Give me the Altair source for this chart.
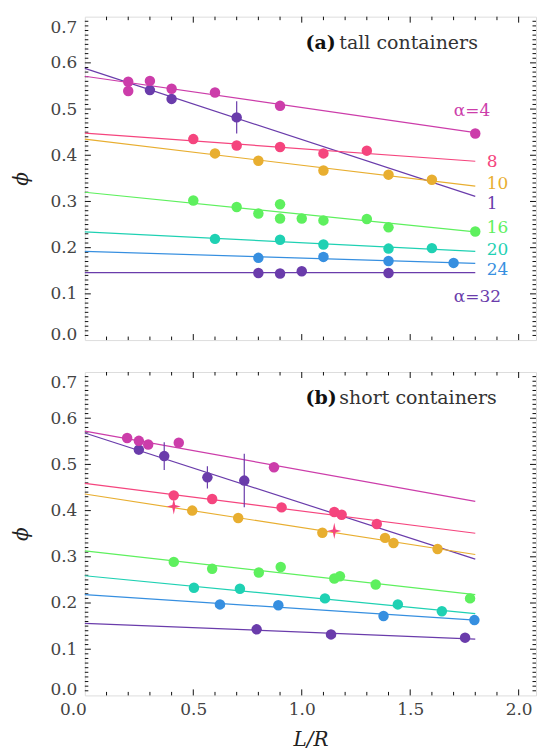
import altair as alt
import numpy as np
import pandas as pd

# ---------------- data ----------------
SERIES = ["1", "4", "8", "10", "16", "20", "24", "32"]
COLORS = ["#6A3CAB", "#CC3DAA", "#F5457E", "#E8AE30", "#5EF05E", "#1FD1B3", "#368FE0", "#6A3CAB"]

FIT_X = [0.0, 1.8]

# (a) tall containers
A_X = {
    "4": [0.2, 0.2, 0.3, 0.4, 0.6, 0.9, 1.8],
    "1": [0.3, 0.4, 0.7],
    "8": [0.5, 0.7, 0.9, 1.1, 1.3],
    "10": [0.6, 0.8, 1.1, 1.4, 1.6],
    "16": [0.5, 0.7, 0.8, 0.9, 0.9, 1.0, 1.1, 1.3, 1.4, 1.8],
    "20": [0.6, 0.9, 1.1, 1.4, 1.6],
    "24": [0.8, 1.1, 1.4, 1.7],
    "32": [0.8, 0.9, 1.0, 1.4],
}
A_Y = {
    "4": [0.559, 0.539, 0.561, 0.544, 0.536, 0.507, 0.447],
    "1": [0.541, 0.522, 0.482],
    "8": [0.435, 0.421, 0.418, 0.404, 0.410],
    "10": [0.404, 0.388, 0.367, 0.358, 0.347],
    "16": [0.302, 0.288, 0.274, 0.294, 0.263, 0.263, 0.259, 0.262, 0.244, 0.235],
    "20": [0.219, 0.217, 0.207, 0.198, 0.199],
    "24": [0.178, 0.180, 0.171, 0.167],
    "32": [0.145, 0.144, 0.149, 0.145],
}
A_ERR = {"1": [0.0, 0.0, 0.035]}
A_FIT = {
    "4": [0.571, 0.449],
    "1": [0.588, 0.311],
    "8": [0.448, 0.387],
    "10": [0.435, 0.333],
    "16": [0.320, 0.234],
    "20": [0.234, 0.192],
    "24": [0.192, 0.166],
    "32": [0.146, 0.146],
}
A_LABEL_SERIES = ["4", "8", "10", "1", "16", "20", "24", "32"]
A_LABEL_TEXT = ["α=4", "8", "10", "1", "16", "20", "24", "α=32"]
A_LABEL_Y = [0.495, 0.385, 0.338, 0.295, 0.242, 0.195, 0.151, 0.094]
A_LABEL_X = [1.701, 1.853, 1.853, 1.853, 1.853, 1.853, 1.853, 1.701]

# (b) short containers
B_X = {
    "4": [0.195, 0.249, 0.292, 0.433, 0.872],
    "1": [0.249, 0.366, 0.565, 0.735],
    "8": [0.410, 0.587, 0.907, 1.150, 1.184, 1.346],
    "10": [0.495, 0.707, 1.095, 1.384, 1.423, 1.626],
    "16": [0.410, 0.587, 0.802, 0.903, 1.150, 1.176, 1.341, 1.776],
    "20": [0.503, 0.715, 1.107, 1.443, 1.646],
    "24": [0.623, 0.892, 1.377, 1.796],
    "32": [0.792, 1.135, 1.753],
}
B_Y = {
    "4": [0.557, 0.551, 0.543, 0.547, 0.494],
    "1": [0.532, 0.518, 0.472, 0.465],
    "8": [0.433, 0.425, 0.407, 0.397, 0.391, 0.371],
    "10": [0.400, 0.384, 0.352, 0.341, 0.330, 0.317],
    "16": [0.289, 0.274, 0.266, 0.278, 0.253, 0.258, 0.240, 0.210],
    "20": [0.233, 0.231, 0.210, 0.197, 0.182],
    "24": [0.197, 0.195, 0.172, 0.163],
    "32": [0.143, 0.132, 0.125],
}
B_ERR = {"1": [0.011, 0.030, 0.024, 0.058]}
B_FIT = {
    "4": [0.572, 0.420],
    "1": [0.568, 0.295],
    "8": [0.459, 0.351],
    "10": [0.436, 0.305],
    "16": [0.313, 0.218],
    "20": [0.259, 0.177],
    "24": [0.218, 0.163],
    "32": [0.156, 0.122],
}
B_STAR_SERIES = ["8", "8"]
B_STAR_X = [0.410, 1.150]
B_STAR_Y = [0.409, 0.356]

# ---------------- layout / style ----------------
W, H = 452, 324
FONT = "DejaVu Serif"
XS = alt.Scale(domain=[0, 2.08], nice=False, zero=False)
YS = alt.Scale(domain=[0, 0.7], nice=False, zero=False)
CS = alt.Scale(domain=SERIES, range=COLORS)
STAR = "M0,-1.15L0.2,-0.2L1,0L0.2,0.2L0,1.15L-0.2,0.2L-1,0L-0.2,-0.2Z"

Y_MAJOR = [round(v, 2) for v in np.arange(0.1, 0.65, 0.1)]
Y_MINOR = [round(v, 2) for v in np.arange(0.01, 0.70, 0.01) if round(v * 100) % 10 != 0]
X_MAJOR = [0.5, 1.0, 1.5, 2.0]
X_MINOR = [round(v, 2) for v in np.arange(0.1, 2.05, 0.1) if round(v * 10) % 5 != 0]

yaxis = alt.Axis(values=[round(v, 1) for v in np.arange(0, 0.75, 0.1)], format=".1f",
                 ticks=False, domain=False, grid=False,
                 labelFont=FONT, labelFontSize=17, labelColor="#444", labelPadding=8,
                 labelFlush=False,
                 labelOffset={"condition": [{"test": "datum.value > 0.65", "value": 11},
                                            {"test": "datum.value < 0.05", "value": -6}],
                              "value": 0},
                 title="ϕ", titleFont=FONT, titleFontSize=20,
                 titleFontStyle="italic", titleFontWeight="normal", titleColor="#222",
                 titlePadding=18)
xaxis = alt.Axis(values=[0.0, 0.5, 1.0, 1.5, 2.0], format=".1f",
                 ticks=False, domain=False, grid=False,
                 labelFont=FONT, labelFontSize=17, labelColor="#444", labelPadding=6,
                 labelFlush=False,
                 labelOffset={"condition": {"test": "datum.value < 0.05", "value": -12},
                              "value": 0},
                 title="L/R", titleFont=FONT, titleFontSize=20,
                 titleFontStyle="italic", titleFontWeight="normal", titleColor="#222",
                 titlePadding=12)


def points_df(xs, ys):
    rows = []
    for s in SERIES:
        if s in xs:
            for x, y in zip(xs[s], ys[s]):
                rows.append({"x": x, "y": y, "s": s})
    return pd.DataFrame(rows)


def err_df(xs, ys, errs):
    rows = []
    for s, es in errs.items():
        for x, y, e in zip(xs[s], ys[s], es):
            if e > 0:
                rows.append({"x": x, "y": y - e, "y2": y + e, "s": s})
    return pd.DataFrame(rows)


def fit_df(fits):
    rows = []
    for s in SERIES:
        for x, y in zip(FIT_X, fits[s]):
            rows.append({"x": x, "y": y, "s": s})
    return pd.DataFrame(rows)


def panel(tag, subtitle, xs, ys, errs, fits, show_x, labels=None, stars=None):
    X = alt.X("x:Q", scale=XS, axis=xaxis if show_x else None)
    Y = alt.Y("y:Q", scale=YS, axis=yaxis)
    C = alt.Color("s:N", scale=CS, legend=None)
    layers = []
    # frame ticks (inward)
    for vals, ln in ((Y_MINOR, 3.5), (Y_MAJOR, 6)):
        d = pd.DataFrame({"y": vals})
        layers.append(alt.Chart(d).mark_rule(color="#111", strokeWidth=1).encode(
            y=Y, x=alt.value(0), x2=alt.value(ln)))
        layers.append(alt.Chart(d).mark_rule(color="#111", strokeWidth=1).encode(
            y=Y, x=alt.value(W - ln), x2=alt.value(W)))
    for vals, ln in ((X_MINOR, 3.5), (X_MAJOR, 6)):
        d = pd.DataFrame({"x": vals})
        layers.append(alt.Chart(d).mark_rule(color="#111", strokeWidth=1).encode(
            x=X, y=alt.value(H - ln), y2=alt.value(H)))
        layers.append(alt.Chart(d).mark_rule(color="#111", strokeWidth=1).encode(
            x=X, y=alt.value(0), y2=alt.value(ln)))
    # fit lines
    layers.append(alt.Chart(fit_df(fits)).mark_line(strokeWidth=1.2).encode(
        x=X, y=Y, color=C, detail="s:N"))
    # error bars
    layers.append(alt.Chart(err_df(xs, ys, errs)).mark_rule(strokeWidth=1.2).encode(
        x=X, y=Y, y2="y2:Q", color=C))
    # points
    layers.append(alt.Chart(points_df(xs, ys)).mark_circle(size=110, opacity=1).encode(
        x=X, y=Y, color=C))
    if stars is not None:
        layers.append(alt.Chart(stars).mark_point(shape=STAR, filled=True, size=200, opacity=1).encode(
            x=X, y=Y, color=C))
    if labels is not None:
        layers.append(alt.Chart(labels).mark_text(align="left", baseline="middle", font=FONT,
                                                  fontSize=17).encode(
            x=X, y=Y, text="t:N", color=C))
    # panel titles
    layers.append(alt.Chart(pd.DataFrame({"t": [tag]})).mark_text(
        align="left", baseline="middle", font=FONT, fontSize=19, fontWeight="bold",
        color="#111").encode(text="t:N", x=alt.value(221), y=alt.value(26)))
    layers.append(alt.Chart(pd.DataFrame({"t": [subtitle]})).mark_text(
        align="left", baseline="middle", font=FONT, fontSize=19, color="#333").encode(
        text="t:N", x=alt.value(255), y=alt.value(26)))
    return alt.layer(*layers).properties(width=W, height=H)


labels_a = pd.DataFrame({"x": A_LABEL_X, "y": A_LABEL_Y, "t": A_LABEL_TEXT, "s": A_LABEL_SERIES})
stars_b = pd.DataFrame({"x": B_STAR_X, "y": B_STAR_Y, "s": B_STAR_SERIES})

pa = panel("(a)", "tall containers", A_X, A_Y, A_ERR, A_FIT, False, labels=labels_a)
pb = panel("(b)", "short containers", B_X, B_Y, B_ERR, B_FIT, True, stars=stars_b)

chart = alt.vconcat(pa, pb, spacing=28).properties(
    padding={"left": 11, "top": 15, "right": 3, "bottom": 0}
).configure_view(stroke="#111", strokeWidth=1).configure(background="white")

chart.save("out.html", embed_options={"renderer": "svg", "actions": False})
